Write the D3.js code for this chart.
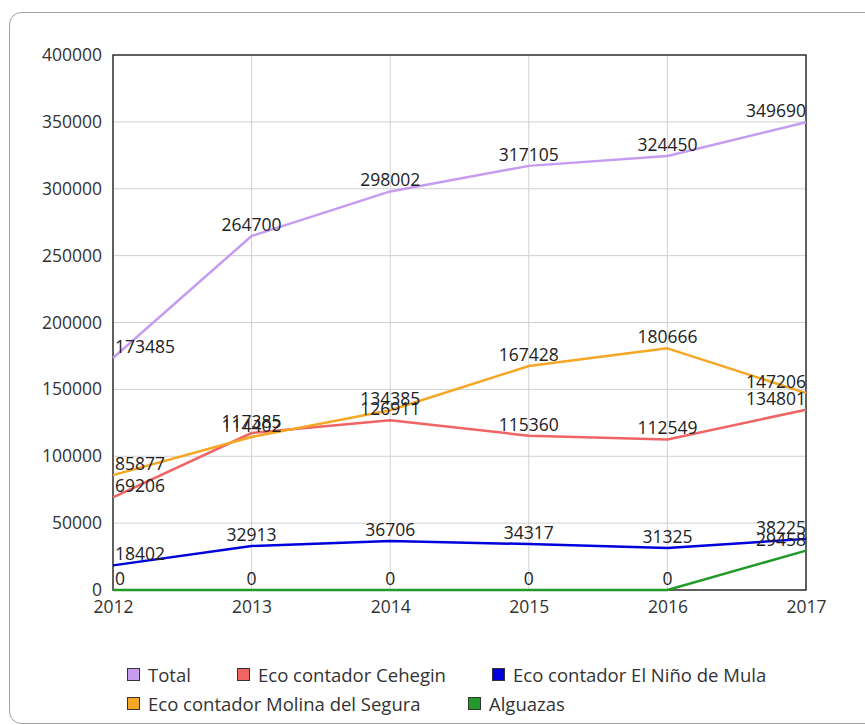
<!DOCTYPE html>
<html>
<head>
<meta charset="utf-8">
<script src="https://cdn.jsdelivr.net/npm/d3@7"></script>
<style>
  body { margin: 0; background: #fff; }
  svg text { font-family: "Open Sans", sans-serif; fill: #333; }
</style>
</head>
<body>
<div id="fig"></div>
<script>
var years = ["2012", "2013", "2014", "2015", "2016", "2017"];
var seriesNames = ["Total", "Eco contador Cehegin", "Eco contador El Niño de Mula",
                   "Eco contador Molina del Segura", "Alguazas"];
var total    = [173485, 264700, 298002, 317105, 324450, 349690];
var cehegin  = [69206, 117385, 126911, 115360, 112549, 134801];
var nino     = [18402, 32913, 36706, 34317, 31325, 38225];
var molina   = [85877, 114402, 134385, 167428, 180666, 147206];
var alguazas = [0, 0, 0, 0, 0, 29458];
var yTicks = [0, 50000, 100000, 150000, 200000, 250000, 300000, 350000, 400000];
var colors = ["#c69cf0", "#f06464", "#0000dd", "#f5a623", "#229a2a"];

var seriesValues = [total, cehegin, nino, molina, alguazas];

var width = 865, height = 725;
var pLeft = 113, pRight = 806, pTop = 55, pBottom = 590;
var numSize = 17.5, legSize = 18.5;

var svg = d3.select("#fig").append("svg")
    .attr("width", width)
    .attr("height", height);

// frame
svg.append("rect")
  .attr("x", 9.5).attr("y", 12.5)
  .attr("width", 880).attr("height", 711)
  .attr("rx", 12).attr("ry", 12)
  .attr("fill", "#fff")
  .attr("stroke", "#a0a0a0");

var x = d3.scalePoint().domain(years).range([pLeft, pRight]);
var y = d3.scaleLinear().domain([0, 400000]).range([pBottom, pTop]);

// grid
svg.append("g").selectAll("line").data(yTicks).enter().append("line")
  .attr("x1", pLeft).attr("x2", pRight)
  .attr("y1", function(d) { return y(d); }).attr("y2", function(d) { return y(d); })
  .attr("stroke", "#d0d0d0").attr("stroke-width", 1);
svg.append("g").selectAll("line").data(years).enter().append("line")
  .attr("x1", function(d) { return x(d); }).attr("x2", function(d) { return x(d); })
  .attr("y1", pTop).attr("y2", pBottom)
  .attr("stroke", "#d0d0d0").attr("stroke-width", 1);

// box
svg.append("rect")
  .attr("x", pLeft).attr("y", pTop)
  .attr("width", pRight - pLeft).attr("height", pBottom - pTop)
  .attr("fill", "none").attr("stroke", "#333").attr("stroke-width", 1.5);

// axes
var yAxis = d3.axisLeft(y).tickValues(yTicks).tickSize(0).tickPadding(11).tickFormat(d3.format("d"));
var ga = svg.append("g").attr("transform", "translate(" + pLeft + ",0)").call(yAxis);
var xAxis = d3.axisBottom(x).tickSize(0).tickPadding(11);
var gb = svg.append("g").attr("transform", "translate(0," + pBottom + ")").call(xAxis);
[ga, gb].forEach(function(g) {
  g.select(".domain").remove();
  g.selectAll("text").attr("font-size", numSize).attr("font-family", "Open Sans, sans-serif").style("fill", "#333");
});

// lines
var line = d3.line()
  .x(function(d, i) { return x(years[i]); })
  .y(function(d) { return y(d); });

seriesValues.forEach(function(vals, s) {
  svg.append("path")
    .attr("d", line(vals))
    .attr("fill", "none")
    .attr("stroke", colors[s])
    .attr("stroke-width", 2.5)
    .attr("stroke-linejoin", "round");
});

// value labels
seriesValues.forEach(function(vals, s) {
  svg.append("g").selectAll("text").data(vals).enter().append("text")
    .attr("x", function(d, i) { return x(years[i]) + (i === 0 ? 2 : 0); })
    .attr("y", function(d) { return y(d) - 5; })
    .attr("text-anchor", function(d, i) { return i === 0 ? "start" : (i === years.length - 1 ? "end" : "middle"); })
    .attr("font-size", numSize)
    .style("fill", "#222")
    .text(function(d) { return d; });
});

// legend
var legendPos = [[127, 675], [237, 675], [492, 675], [127, 704], [468, 704]];
var lg = svg.append("g").selectAll("g").data(seriesNames).enter().append("g")
  .attr("transform", function(d, i) { return "translate(" + legendPos[i][0] + "," + legendPos[i][1] + ")"; });
lg.append("rect")
  .attr("x", 0.5).attr("y", -6.5).attr("width", 12).attr("height", 12)
  .attr("fill", function(d, i) { return colors[i]; })
  .attr("stroke", "#333").attr("stroke-width", 1);
lg.append("text")
  .attr("x", 21).attr("y", 6.5)
  .attr("font-size", legSize)
  .text(function(d) { return d; });
</script>
</body>
</html>
